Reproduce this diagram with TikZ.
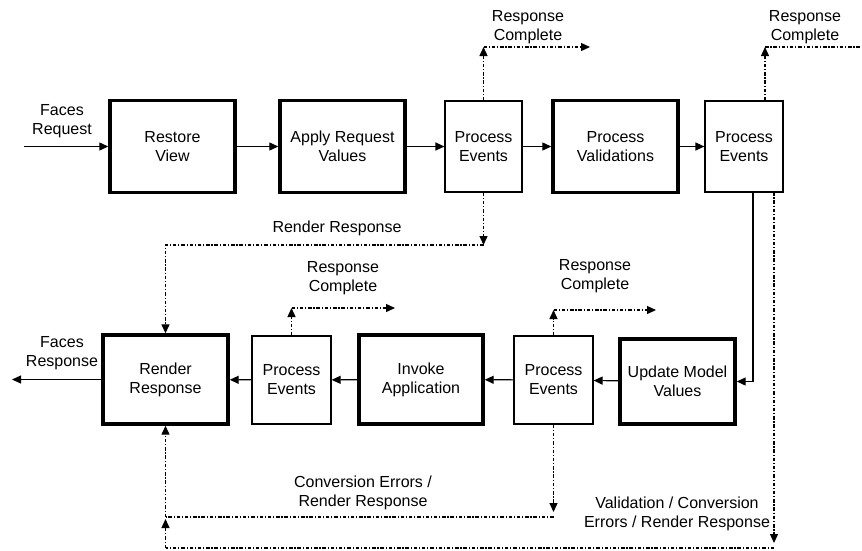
\documentclass[tikz,border=0pt]{standalone}
\usepackage{fontspec}
\setmainfont{Liberation Sans}
\usetikzlibrary{arrows.meta}
\tikzset{
  heavy/.style={draw, line width=3.4pt, inner sep=0pt, align=center},
  light/.style={draw, line width=1.2pt, inner sep=0pt, align=center},
  lbl/.style={align=center, inner sep=0pt},
  flow/.style={line width=1.2pt, -{Triangle[length=9pt,width=8pt]}},
  alt/.style={line width=1.3pt, dash pattern=on 3.5pt off 1.8pt on 1.2pt off 1.8pt},
  altarrow/.style={alt, -{Triangle[length=9pt,width=8pt]}},
}
\begin{document}
\begin{tikzpicture}[x=1pt, y=-1pt, font=\fontsize{16}{19}\selectfont]
\useasboundingbox (0,0) rectangle (862,550);

% top row of phases
\node[heavy, minimum width=125pt, minimum height=92pt] (rv)  at (172.5,146.5) {Restore\\View};
\node[heavy, minimum width=125pt, minimum height=92pt] (arv) at (342.5,146.5) {Apply Request\\Values};
\node[light, minimum width=77pt,  minimum height=91pt] (pe1) at (483.5,146.5) {Process\\Events};
\node[heavy, minimum width=125pt, minimum height=92pt] (pv)  at (615.5,146.5) {Process\\Validations};
\node[light, minimum width=78pt,  minimum height=91pt] (pe2) at (744,146.5)   {Process\\Events};

% bottom row of phases
\node[heavy, minimum width=125pt, minimum height=89pt] (rr)   at (165.5,379.5) {Render\\Response};
\node[light, minimum width=79pt,  minimum height=88pt] (peb1) at (291.5,380)   {Process\\Events};
\node[heavy, minimum width=124pt, minimum height=89pt] (ia)   at (421,379.5)   {Invoke\\Application};
\node[light, minimum width=79pt,  minimum height=88pt] (peb2) at (553.5,380)   {Process\\Events};
\node[heavy, minimum width=115pt, minimum height=85pt] (umv)  at (677.5,381.5) {Update Model\\Values};

% free ends and bends
\coordinate (fin)  at (24,146.5);
\coordinate (fout) at (12,379.5);
\coordinate (rc1)  at (483.5,47);
\coordinate (rc1e) at (590,47);
\coordinate (rc2)  at (765,47);
\coordinate (rc2e) at (862,47);
\coordinate (rc3)  at (291.5,308);
\coordinate (rc3e) at (395,308);
\coordinate (rc4)  at (553.5,310);
\coordinate (rc4e) at (656,310);
\coordinate (rrd)  at (483.5,245);
\coordinate (rrl)  at (165.5,245);
\coordinate (s1)   at (753,192);
\coordinate (d1)   at (774,192);
\coordinate (d2)   at (774,543);
\coordinate (d3)   at (774,548);
\coordinate (d4)   at (165.5,548);
\coordinate (ce1)  at (553.5,512);
\coordinate (ce2)  at (553.5,517);
\coordinate (ce3)  at (165.5,517);
\coordinate (ce4)  at (165.5,519);

% normal flow
\draw[flow] (fin) -- (rv);
\draw[flow] (rv) -- (arv);
\draw[flow] (arv) -- (pe1);
\draw[flow] (pe1) -- (pv);
\draw[flow] (pv) -- (pe2);
\draw[flow] (s1) |- (umv.east);
\draw[flow] (umv) -- (peb2);
\draw[flow] (peb2) -- (ia);
\draw[flow] (ia) -- (peb1);
\draw[flow] (peb1) -- (rr);
\draw[flow] (rr) -- (fout);

% response complete exits
\draw[altarrow] (pe1.north) -- (rc1);
\draw[altarrow] (rc1) -- (rc1e);
\draw[altarrow] (pe2.north -| rc2) -- (rc2);
\draw[alt] (rc2) -- (rc2e);
\draw[altarrow] (peb1.north) -- (rc3);
\draw[altarrow] (rc3) -- (rc3e);
\draw[altarrow] (peb2.north) -- (rc4);
\draw[altarrow] (rc4) -- (rc4e);

% render response shortcut
\draw[altarrow] (pe1.south) -- (rrd);
\draw[altarrow] (rrd) -- (rrl) -- (rr.north);

% error paths
\draw[altarrow] (d1) -- (d2);
\draw[alt] (d3) -- (d4);
\draw[altarrow] (d4) -- (ce4);
\draw[altarrow] (ce3) -- (rr.south);
\draw[altarrow] (peb2.south) -- (ce1);
\draw[alt] (ce2) -- (ce3);

% labels
\node[lbl] (lfr)  at (62,121)  {Faces\\Request};
\node[lbl] (lfs)  at (62,353)  {Faces\\Response};
\node[lbl] (lrc1) at (528,27)  {Response\\Complete};
\node[lbl] (lrc2) at (805,27)  {Response\\Complete};
\node[lbl] (lrc3) at (343,278) {Response\\Complete};
\node[lbl] (lrc4) at (595,276) {Response\\Complete};
\node[lbl] (lrr)  at (337,228) {Render Response};
\node[lbl] (lce)  at (363,493) {Conversion Errors /\\Render Response};
\node[lbl] (lvc)  at (677,514) {Validation / Conversion\\Errors / Render Response};
\end{tikzpicture}
\end{document}
